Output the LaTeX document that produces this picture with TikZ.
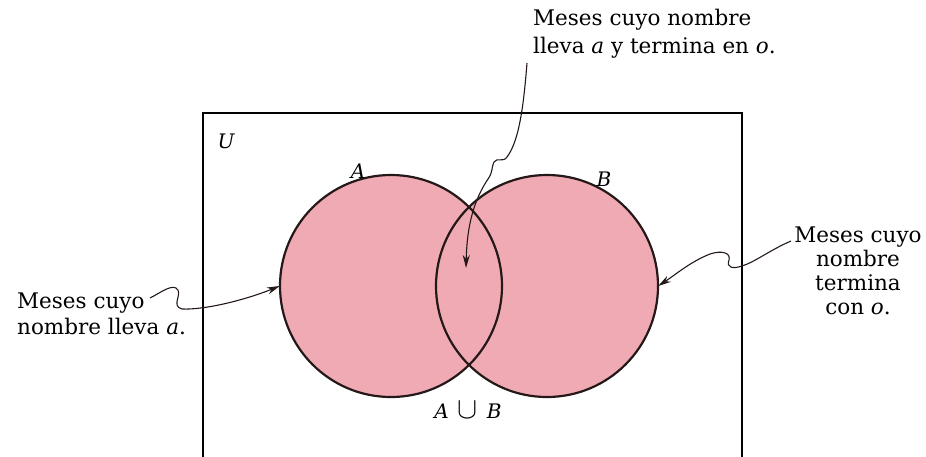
\documentclass[tikz,border=0pt]{standalone}
\usepackage{fontspec}
\setmainfont{DejaVu Serif}
\usetikzlibrary{arrows.meta}
\definecolor{setpink}{RGB}{240,170,180}
\definecolor{ink}{RGB}{36,24,24}
\tikzset{
  setcircle/.style={circle, minimum size=222pt, inner sep=0pt},
  lbl/.style={inner sep=0pt, font=\fontsize{21.5}{26}\selectfont},
  setname/.style={inner sep=0pt, font=\fontsize{20}{24}\selectfont\itshape},
  callout/.style={draw=ink, line width=1.1pt, -{Stealth[length=13pt,width=7pt]}},
}
\begin{document}
\begin{tikzpicture}[x=1pt,y=-1pt]
\useasboundingbox (0,0) rectangle (926,456);
\clip (0,0) rectangle (926,456);
% universe frame (bottom edge lies below the picture)
\draw[line width=2.4pt, black] (203,470) -- (203,113) -- (742,113) -- (742,470);
% sets
\node[setcircle, fill=setpink] (A) at (391,286) {};
\node[setcircle, fill=setpink] (B) at (547,286) {};
\draw[ink, line width=2.2pt] (391,286) circle[radius=111pt];
\draw[ink, line width=2.2pt] (547,286) circle[radius=111pt];
% labels
\node[setname] (U) at (226,141) {U};
\node[setname] (Alab) at (358,171) {A};
\node[setname] (Blab) at (604,179) {B};
\node[setname] (AuB) at (468,410) {A\hspace{0.45em}{\upshape\scalebox{1.45}{$\cup$}}\hspace{0.45em}B};
% texts
\node[lbl, anchor=north west, align=left, font=\fontsize{21.5}{28}\selectfont] (top) at (533,9)
  {Meses cuyo nombre\\lleva \textit{a} y termina en \textit{o}.};
\node[lbl, anchor=north west, align=left] (left) at (17,293)
  {Meses cuyo\\nombre lleva \textit{a}.};
\node[lbl, anchor=north, align=center, font=\fontsize{21.5}{24}\selectfont] (right) at (858,227)
  {Meses cuyo\\nombre\\termina\\con \textit{o}.};
% callouts
\coordinate (ttail) at (527,63);
\coordinate (ltail) at (150,298);
\coordinate (rtail) at (791,241);
\coordinate (lens) at (466,268);
\draw[callout] (ttail) .. controls (524,100) and (520,140) .. (507,157)
  .. controls (503,163) and (497,157) .. (494,162)
  .. controls (491,169) and (493,172) .. (488,179)
  .. controls (474,200) and (467,225) .. (lens);
\draw[callout] (ltail) .. controls (160,293) and (170,285) .. (176,288)
  .. controls (184,293) and (170,306) .. (182,309)
  .. controls (205,310) and (245,300) .. (A.west);
\draw[callout] (rtail) .. controls (770,250) and (755,262) .. (742,266)
  .. controls (733,269) and (726,268) .. (729,260)
  .. controls (731,253) and (722,250) .. (710,254)
  .. controls (690,262) and (675,275) .. (B.east);
\end{tikzpicture}
\end{document}
